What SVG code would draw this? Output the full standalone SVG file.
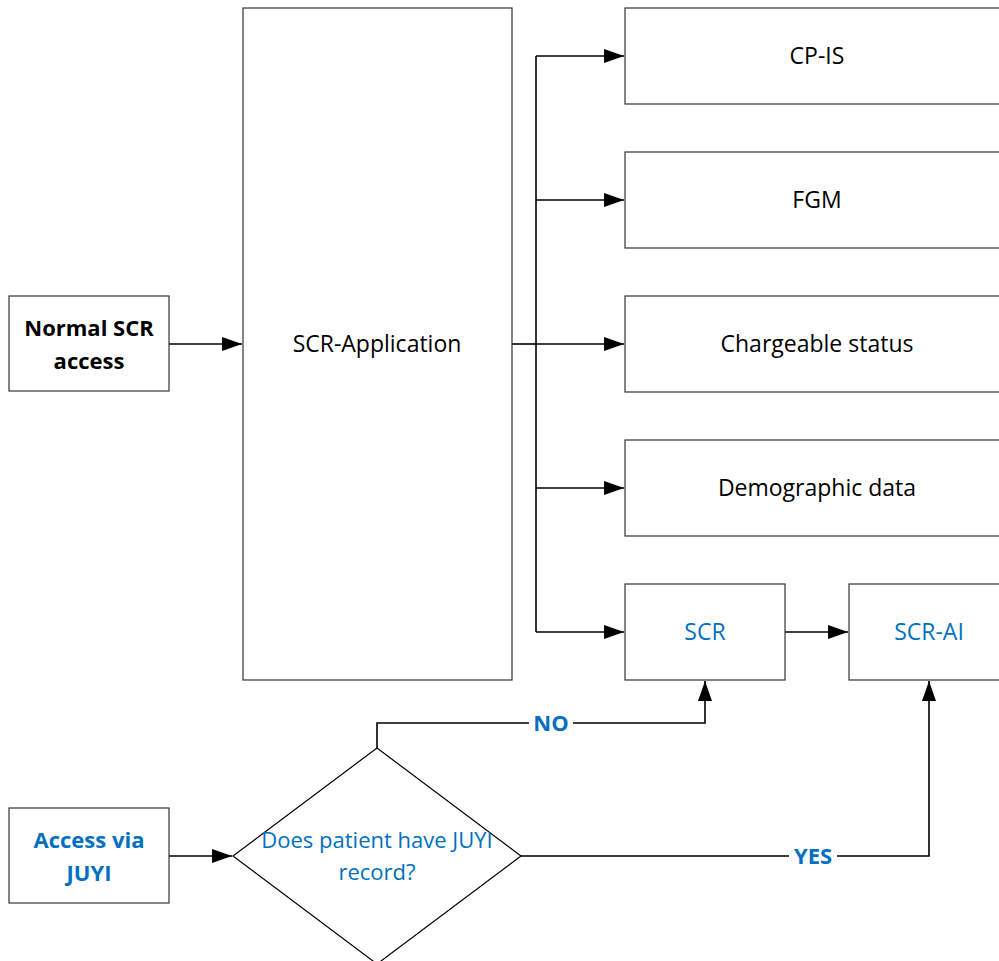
<svg xmlns="http://www.w3.org/2000/svg" width="999" height="961" viewBox="0 0 999 961">
<defs>
<style>
.box{fill:#fff;stroke:#333;stroke-width:1.2}
.t{font-family:"Open Sans","Noto Sans",sans-serif;font-size:23px;fill:#000;text-anchor:middle}
.b{font-weight:bold;font-size:22px}
.d{font-size:22px}
.blue{fill:#0070C0}
.c{fill:none;stroke:#000;stroke-width:1.6}
.lbl{font-family:"Open Sans","Noto Sans",sans-serif;font-size:22px;font-weight:bold;fill:#0070C0;text-anchor:middle}
</style>
<marker id="ah" markerWidth="20" markerHeight="14" refX="20" refY="7" orient="auto" markerUnits="userSpaceOnUse">
<path d="M0,0 L20,7 L0,14 Z" fill="#000"/>
</marker>
</defs>
<rect width="999" height="961" fill="#fff"/>
<g id="connectors">
<path class="c" d="M169,344 H242" marker-end="url(#ah)"/>
<path class="c" d="M512,344 H536"/>
<path class="c" d="M536,56 V632"/>
<path class="c" d="M536,56 H624" marker-end="url(#ah)"/>
<path class="c" d="M536,200 H624" marker-end="url(#ah)"/>
<path class="c" d="M536,344 H624" marker-end="url(#ah)"/>
<path class="c" d="M536,488 H624" marker-end="url(#ah)"/>
<path class="c" d="M536,632 H624" marker-end="url(#ah)"/>
<path class="c" d="M785,632 H848" marker-end="url(#ah)"/>
<path class="c" d="M169,856 H232" marker-end="url(#ah)"/>
<path class="c" d="M377,748 V723 H705 V681" marker-end="url(#ah)"/>
<path class="c" d="M521,856 H929 V681" marker-end="url(#ah)"/>
<rect x="529" y="710" width="44" height="26" fill="#fff"/>
<text class="lbl" x="551" y="731">NO</text>
<rect x="789" y="843" width="48" height="26" fill="#fff"/>
<text class="lbl" x="813" y="864">YES</text>
</g>
<g id="normal">
<rect class="box" x="9" y="296" width="160" height="95"/>
<text class="t b" x="89" y="336">Normal SCR</text>
<text class="t b" x="89" y="369">access</text>
</g>
<g id="app">
<rect class="box" x="243" y="8" width="269" height="672"/>
<text class="t" x="377" y="352">SCR-Application</text>
</g>
<g id="cpis">
<rect class="box" x="625" y="8" width="380" height="96"/>
<text class="t" x="817" y="64">CP-IS</text>
</g>
<g id="fgm">
<rect class="box" x="625" y="152" width="380" height="96"/>
<text class="t" x="817" y="208">FGM</text>
</g>
<g id="charge">
<rect class="box" x="625" y="296" width="380" height="96"/>
<text class="t" x="817" y="352">Chargeable status</text>
</g>
<g id="demo">
<rect class="box" x="625" y="440" width="380" height="96"/>
<text class="t" x="817" y="496">Demographic data</text>
</g>
<g id="scr">
<rect class="box" x="625" y="584" width="160" height="96"/>
<text class="t blue" x="705" y="640">SCR</text>
</g>
<g id="scrai">
<rect class="box" x="849" y="584" width="160" height="96"/>
<text class="t blue" x="929" y="640">SCR-AI</text>
</g>
<g id="juyi">
<rect class="box" x="9" y="808" width="160" height="95"/>
<text class="t b blue" x="89" y="848">Access via</text>
<text class="t b blue" x="89" y="881">JUYI</text>
</g>
<g id="decision">
<path class="box" d="M377,748 L521,856 L377,964 L233,856 Z" style="stroke:#000"/>
<text class="t d blue" x="377" y="848">Does patient have JUYI</text>
<text class="t d blue" x="377" y="880">record?</text>
</g>
</svg>
